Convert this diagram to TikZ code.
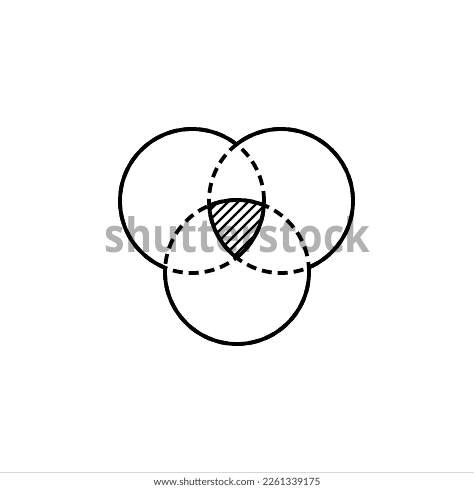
\documentclass[tikz,border=0pt]{standalone}
\usepackage{fontspec}
\newfontfamily\markfont{Open Sans}
\newfontfamily\barfont{Lato}
\definecolor{markgray}{RGB}{178,178,178}
\definecolor{bargray}{RGB}{214,214,214}
\definecolor{bartext}{RGB}{60,60,60}

\tikzset{
  ring/.style={line width=3.8pt},
  dashring/.style={line width=3.8pt, dash pattern=on 10pt off 6pt},
  hatch/.style={line width=2.2pt}
}

\begin{document}
\begin{tikzpicture}[x=1pt,y=-1pt]
  \useasboundingbox[fill=white] (0,0) rectangle (474,489);

  % watermark
  \node[inner sep=0pt, text=markgray] (mark) at (237.5,235)
    {\resizebox{265pt}{36pt}{\markfont\bfseries shutterstock}};

  % centres
  \path (192,201) coordinate (cl);
  \path (281,201) coordinate (cr);
  \path (237,272) coordinate (cb);
  \def\rad{72pt}

  % hidden parts
  \foreach \c in {cl,cr,cb}
  { \draw[dashring] (\c) circle[radius=\rad]; }

  % outer rim
  \foreach \a/\b/\c in {cl/cr/cb, cr/cl/cb, cb/cl/cr}
  {
    \begin{scope}[even odd rule]
      \clip (0,0) rectangle (474,489) (\b) circle[radius=\rad];
      \clip (0,0) rectangle (474,489) (\c) circle[radius=\rad];
      \draw[ring] (\a) circle[radius=\rad];
    \end{scope}
  }

  % common part
  \begin{scope}
    \clip (cl) circle[radius=\rad];
    \clip (cr) circle[radius=\rad];
    \clip (cb) circle[radius=\rad];
    \foreach \s in {120,130,...,300}
    { \draw[hatch] (\s,280) -- ++(90,-90); }
  \end{scope}
  \foreach \a/\b/\c in {cl/cr/cb, cr/cl/cb, cb/cl/cr}
  {
    \begin{scope}
      \clip (\b) circle[radius=\rad];
      \clip (\c) circle[radius=\rad];
      \draw[ring] (\a) circle[radius=\rad];
    \end{scope}
  }

  % footer
  \path (0,472) coordinate (barl);
  \path (474,472) coordinate (barr);
  \draw[bargray, line width=1pt] (barl) -- (barr);
  \node[text=bartext, font=\barfont\fontsize{10}{12}\selectfont] (credit) at (237,482)
    {www.shutterstock.com · 2261339175};
\end{tikzpicture}
\end{document}
